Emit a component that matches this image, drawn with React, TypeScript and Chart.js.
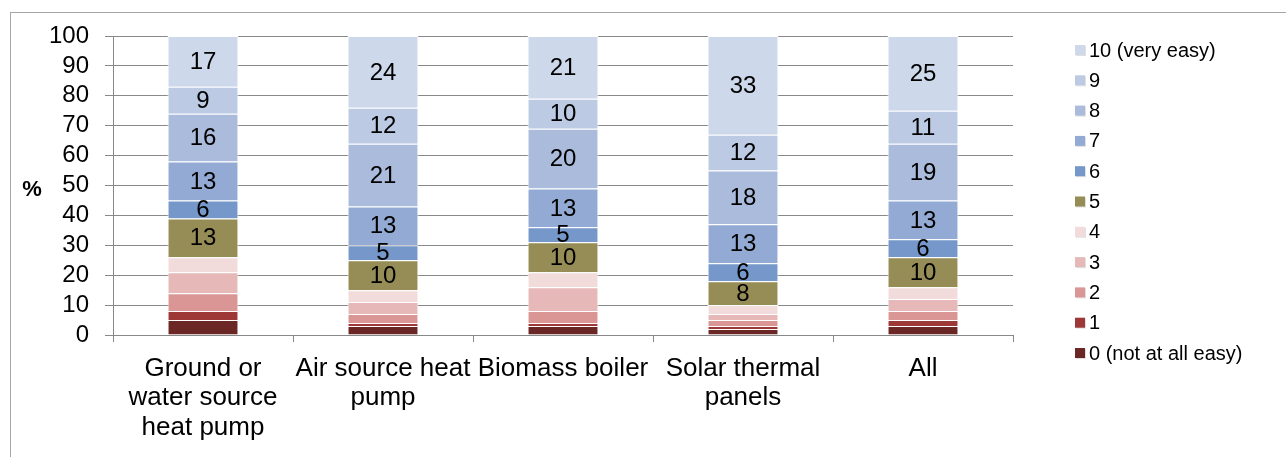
import React, { useEffect, useRef } from "react";
import { Chart, registerables } from "chart.js";

Chart.register(...registerables);

const categories: (string | string[])[] = [
  ["Ground or", "water source", "heat pump"],
  ["Air source heat", "pump"],
  "Biomass boiler",
  ["Solar thermal", "panels"],
  "All",
];

const seriesNames = [
  "0 (not at all easy)",
  "1",
  "2",
  "3",
  "4",
  "5",
  "6",
  "7",
  "8",
  "9",
  "10 (very easy)",
];

const score0 = [5, 3, 3, 2, 3];
const score1 = [3, 1, 1, 1, 2];
const score2 = [6, 3, 4, 2, 3];
const score3 = [7, 4, 8, 2, 4];
const score4 = [5, 4, 5, 3, 4];
const score5 = [13, 10, 10, 8, 10];
const score6 = [6, 5, 5, 6, 6];
const score7 = [13, 13, 13, 13, 13];
const score8 = [16, 21, 20, 18, 19];
const score9 = [9, 12, 10, 12, 11];
const score10 = [17, 24, 21, 33, 25];

const seriesValues = [score0, score1, score2, score3, score4, score5, score6, score7, score8, score9, score10];

const seriesColors = [
  "#6a2725",
  "#9e3836",
  "#d99694",
  "#e6b9b8",
  "#f2dcdb",
  "#968c56",
  "#7597c9",
  "#93abd4",
  "#aabbdc",
  "#bccae3",
  "#cdd8ea",
];

// only these series carry a value label in the reference
const labelledFrom = 5;

const FONT = "'Liberation Sans', Arial, Helvetica, sans-serif";

const valueLabels = {
  id: "valueLabels",
  afterDatasetsDraw(chart: any) {
    const ctx = chart.ctx;
    ctx.save();
    ctx.font = `24px ${FONT}`;
    ctx.fillStyle = "#000";
    ctx.textAlign = "center";
    ctx.textBaseline = "middle";
    chart.data.datasets.forEach((ds: any, i: number) => {
      if (i < labelledFrom) return;
      const meta = chart.getDatasetMeta(i);
      meta.data.forEach((bar: any, j: number) => {
        const p = bar.getProps(["x", "y", "base"], true);
        ctx.fillText(String(ds.data[j]), p.x, (p.y + p.base) / 2 + 1);
      });
    });
    ctx.restore();
  },
};

const sideLegend = {
  id: "sideLegend",
  afterDraw(chart: any) {
    const ctx = chart.ctx;
    ctx.save();
    ctx.font = `20px ${FONT}`;
    ctx.textAlign = "left";
    ctx.textBaseline = "middle";
    const n = chart.data.datasets.length;
    const x0 = chart.chartArea.right + 62;
    const y0 = chart.chartArea.top + 14;
    const step = 30.3;
    for (let k = 0; k < n; k++) {
      const ds = chart.data.datasets[n - 1 - k];
      const y = y0 + k * step;
      ctx.fillStyle = "rgba(0,0,0,0.12)";
      ctx.fillRect(x0 + 1, y - 4, 10, 10);
      ctx.fillStyle = ds.backgroundColor;
      ctx.fillRect(x0, y - 5, 10, 10);
      ctx.fillStyle = "#000";
      ctx.fillText(ds.label, x0 + 14, y + 1);
    }
    ctx.restore();
  },
};

const percentTitle = {
  id: "percentTitle",
  afterDraw(chart: any) {
    const ctx = chart.ctx;
    ctx.save();
    ctx.font = `bold 22px ${FONT}`;
    ctx.fillStyle = "#000";
    ctx.textAlign = "center";
    ctx.textBaseline = "middle";
    ctx.fillText("%", 32, (chart.chartArea.top + chart.chartArea.bottom) / 2 + 4);
    ctx.restore();
  },
};

export default function App() {
  const ref = useRef<HTMLCanvasElement | null>(null);

  useEffect(() => {
    if (!ref.current) return;
    const chart = new Chart(ref.current, {
      type: "bar",
      data: {
        labels: categories,
        datasets: seriesValues.map((vals, i) => ({
          label: seriesNames[i],
          data: vals,
          backgroundColor: seriesColors[i],
          borderColor: "#ffffff",
          borderWidth: 1,
          categoryPercentage: 1,
          barPercentage: 0.394,
        })),
      },
      options: {
        responsive: false,
        animation: false,
        events: [],
        layout: { padding: { left: 50, right: 273, top: 36, bottom: 0 } },
        plugins: {
          legend: { display: false },
          tooltip: { enabled: false },
          title: { display: false },
        },
        scales: {
          x: {
            stacked: true,
            grid: {
              display: true,
              drawOnChartArea: false,
              drawTicks: true,
              tickLength: 7,
              color: "#888888",
              offset: true,
            },
            border: { display: true, color: "#888888", width: 1 },
            ticks: {
              color: "#000",
              font: { family: FONT, size: 26, lineHeight: 1.135 },
              padding: 12,
              maxRotation: 0,
              autoSkip: false,
            },
            afterFit: (scale: any) => {
              scale.height = 122;
            },
          },
          y: {
            stacked: true,
            min: 0,
            max: 100,
            grid: {
              color: "#888888",
              drawTicks: true,
              tickLength: 8,
            },
            border: { display: true, color: "#888888", width: 1 },
            ticks: {
              stepSize: 10,
              autoSkip: false,
              color: "#000",
              font: { family: FONT, size: 24, lineHeight: 1 },
              padding: 16,
            },
            afterFit: (scale: any) => {
              scale.width = 63;
            },
          },
        },
      },
      plugins: [valueLabels, sideLegend, percentTitle],
    });
    return () => chart.destroy();
  }, []);

  return (
    <div style={{ position: "absolute", left: 0, top: 0, width: 1286, height: 457, background: "#fff", overflow: "hidden" }}>
      <div
        style={{
          position: "absolute",
          left: 10,
          top: 12,
          width: 1290,
          height: 460,
          borderLeft: "1px solid #a6a6a6",
          borderTop: "1px solid #a6a6a6",
        }}
      />
      <canvas ref={ref} width={1286} height={457} style={{ position: "absolute", left: 0, top: 0, display: "block" }} />
    </div>
  );
}
